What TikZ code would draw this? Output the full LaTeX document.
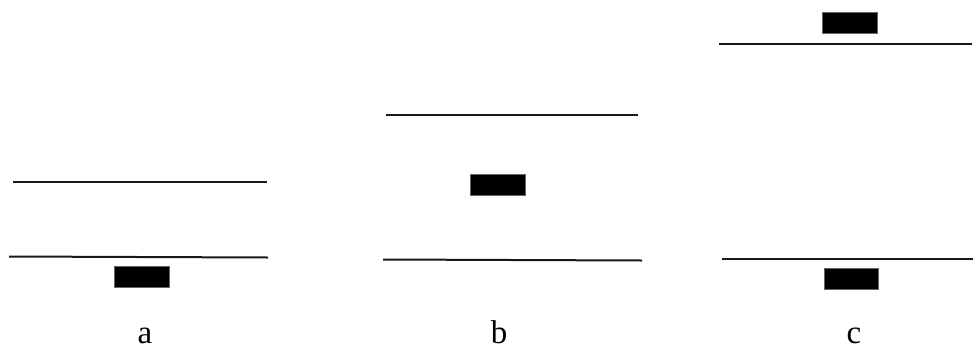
\documentclass[tikz,border=0pt]{standalone}
\usepackage{fontspec}
\setmainfont{Liberation Serif}
\begin{document}
\begin{tikzpicture}[x=1pt,y=-1pt,
  level/.style={line width=2pt,draw=black!90},
  blk/.style={fill=black,draw=black!60,line width=0.6pt},
  lbl/.style={anchor=base,font=\fontsize{33}{38}\selectfont,inner sep=0pt}]
\useasboundingbox (0,0) rectangle (973,351);
% panel a
\draw[level] (13,182) -- (267,182);
\draw[level] (9,256.5) -- (268,257.5);
\draw[blk] (114,266) rectangle (169,287);
\node[lbl] (la) at (145,343) {a};
% panel b
\draw[level] (386,115) -- (638,115);
\draw[level] (383,259.5) -- (642,260.5);
\draw[blk] (470,174) rectangle (525,195);
\node[lbl] (lb) at (499,343) {b};
% panel c
\draw[blk] (822,12) rectangle (877,33);
\draw[level] (719,44) -- (972,44);
\draw[level] (722,259) -- (973,259);
\draw[blk] (824,268) rectangle (878,289);
\node[lbl] (lc) at (854,343) {c};
\end{tikzpicture}
\end{document}
